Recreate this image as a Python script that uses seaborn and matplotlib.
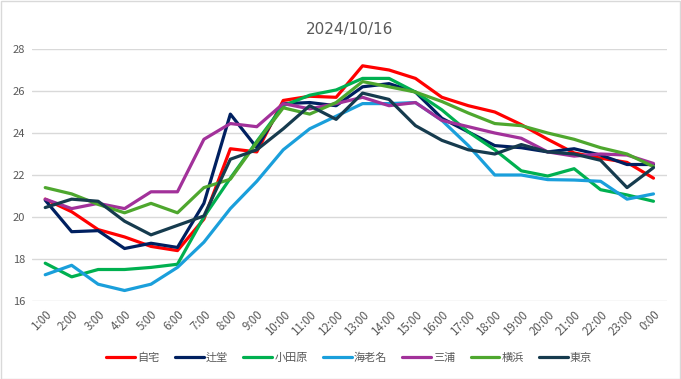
import pandas as pd
import matplotlib
matplotlib.use("Agg")
import matplotlib.pyplot as plt
import seaborn as sns
from matplotlib.patches import Rectangle

# hourly temperatures
hours = ["1:00", "2:00", "3:00", "4:00", "5:00", "6:00", "7:00", "8:00",
         "9:00", "10:00", "11:00", "12:00", "13:00", "14:00", "15:00", "16:00",
         "17:00", "18:00", "19:00", "20:00", "21:00", "22:00", "23:00", "0:00"]

jitaku = [20.85, 20.25, 19.4, 19.05, 18.6, 18.4, 19.9, 23.25, 23.1, 25.55, 25.75, 25.7,
          27.2, 27.0, 26.6, 25.7, 25.3, 25.0, 24.4, 23.7, 23.05, 22.8, 22.6, 21.85]
tsujido = [20.8, 19.3, 19.35, 18.5, 18.75, 18.55, 20.65, 24.9, 23.3, 25.4, 25.45, 25.3,
           26.2, 26.35, 25.95, 24.7, 24.05, 23.4, 23.3, 23.1, 23.25, 22.95, 22.5, 22.5]
odawara = [17.8, 17.15, 17.5, 17.5, 17.6, 17.75, 20.0, 21.85, 23.6, 25.3, 25.8, 26.05,
           26.6, 26.6, 25.95, 25.1, 24.05, 23.2, 22.2, 21.95, 22.3, 21.3, 21.05, 20.75]
ebina = [17.25, 17.7, 16.8, 16.5, 16.8, 17.6, 18.8, 20.4, 21.7, 23.2, 24.2, 24.8,
         25.4, 25.4, 25.45, 24.6, 23.4, 22.0, 22.0, 21.78, 21.76, 21.7, 20.85, 21.1]
miura = [20.85, 20.4, 20.65, 20.4, 21.2, 21.2, 23.7, 24.45, 24.3, 25.4, 25.15, 25.4,
         25.7, 25.3, 25.45, 24.6, 24.3, 24.0, 23.75, 23.1, 22.9, 23.0, 22.95, 22.55]
yokohama = [21.4, 21.1, 20.6, 20.2, 20.65, 20.2, 21.4, 21.8, 23.55, 25.2, 24.9, 25.45,
            26.45, 26.2, 25.95, 25.5, 24.95, 24.45, 24.35, 24.0, 23.7, 23.3, 23.0, 22.4]
tokyo = [20.45, 20.85, 20.75, 19.8, 19.15, 19.6, 20.05, 22.75, 23.2, 24.2, 25.3, 24.65,
         25.9, 25.6, 24.35, 23.65, 23.2, 23.0, 23.45, 23.1, 23.0, 22.7, 21.4, 22.35]

names = ["自宅", "辻堂", "小田原", "海老名", "三浦", "横浜", "東京"]
colors = ["#FF0000", "#002060", "#00B050", "#1A9FDB", "#A2319A", "#4EA72E", "#163B4E"]

series = [jitaku, tsujido, odawara, ebina, miura, yokohama, tokyo]
df = pd.concat(
    [pd.DataFrame({"hour": hours, "temp": vals, "site": name}) for name, vals in zip(names, series)],
    ignore_index=True,
)

sns.set_theme(style="white")
plt.rcParams["font.family"] = ["Noto Sans CJK JP", "DejaVu Sans"]

fig = plt.figure(figsize=(6.81, 3.79), dpi=100)
ax = fig.add_axes([0.047, 0.2058, 0.932, 0.6649])

sns.lineplot(data=df, x="hour", y="temp", hue="site", hue_order=names,
             palette=colors, linewidth=2.3, sort=False, ax=ax)

ax.set_xlim(-0.5, len(hours) - 0.5)
ax.set_ylim(16, 28)
ax.set_yticks([16, 18, 20, 22, 24, 26, 28])
ax.yaxis.grid(True, color="#D9D9D9", linewidth=1)
ax.set_axisbelow(True)
for s in ax.spines.values():
    s.set_visible(False)
ax.set_xlabel("")
ax.set_ylabel("")
ax.tick_params(axis="y", length=0, labelsize=8, colors="#595959", pad=5)
ax.tick_params(axis="x", length=0, labelsize=8.3, colors="#595959", pad=5)
plt.setp(ax.get_xticklabels(), rotation=45, ha="right", rotation_mode="anchor")

ax.set_title("2024/10/16", fontsize=11, color="#595959", pad=11, family="DejaVu Sans")

ax.legend(loc="center", bbox_to_anchor=(0.5, -0.226), ncol=7, frameon=False,
          fontsize=8, handlelength=2.6, handletextpad=0.2, columnspacing=1.35,
          labelcolor="#595959")

fig.patches.append(Rectangle((0.001, 0.001), 0.998, 0.997, transform=fig.transFigure,
                             fill=False, edgecolor="#D9D9D9", linewidth=1))

fig.savefig("out.png", dpi=100)
